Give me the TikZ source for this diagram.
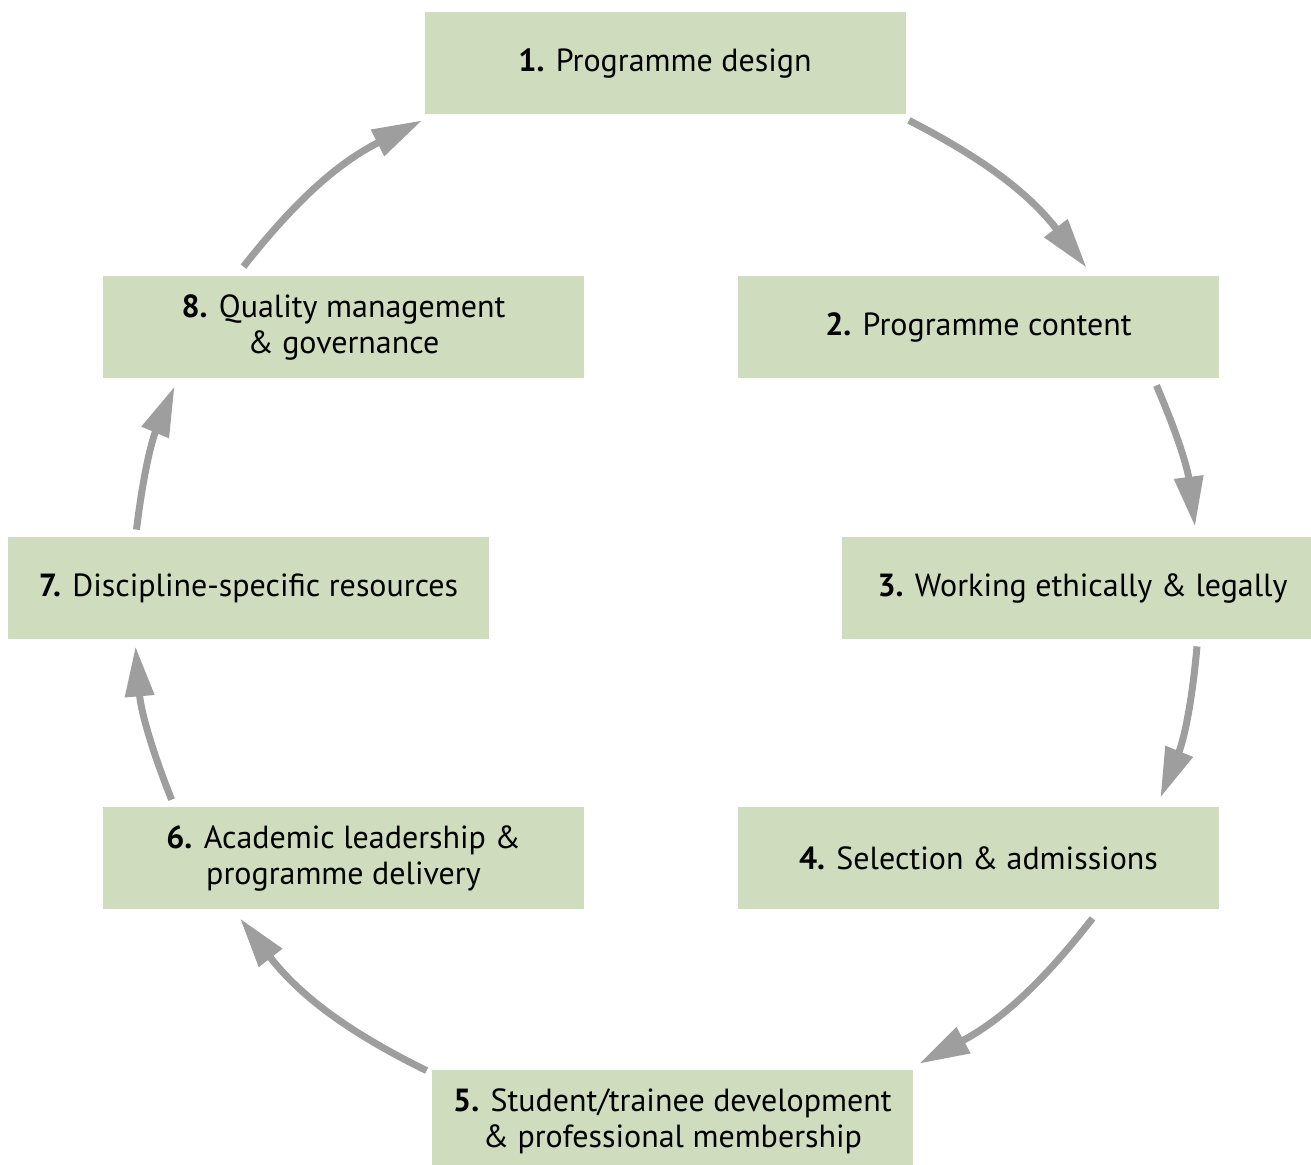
\documentclass[tikz,border=0pt]{standalone}
\usepackage{fontspec}
\setmainfont{PT Sans}
\usetikzlibrary{arrows.meta}
\definecolor{stagegreen}{RGB}{207,220,189}
\definecolor{arrowgray}{RGB}{158,158,158}
\tikzset{
  stage/.style={fill=stagegreen, minimum width=240.5pt, minimum height=51pt, inner sep=0pt, align=center, font=\fontsize{16}{18}\selectfont},
  flowarrow/.style={draw=arrowgray, line width=3.5pt, -{Triangle[length=25pt, width=14pt]}}
}
\begin{document}
\begin{tikzpicture}[x=0.5pt, y=-0.5pt]
\useasboundingbox (0,0) rectangle (1311,1164);
\node[stage] (s1) at (665,63) {\textbf{1.} Programme design};
\node[stage] (s2) at (978.5,327) {\textbf{2.} Programme content};
\node[stage] (s3) at (1082.5,588) {\textbf{3.} Working ethically \& legally};
\node[stage] (s4) at (978.5,858) {\textbf{4.} Selection \& admissions};
\node[stage] (s5) at (672.5,1121) {\textbf{5.} Student/trainee development\\\& professional membership};
\node[stage] (s6) at (343.5,858) {\textbf{6.} Academic leadership \&\\programme delivery};
\node[stage] (s7) at (248.5,588) {\textbf{7.} Discipline-specific resources};
\node[stage] (s8) at (343.5,327) {\textbf{8.} Quality management\\\& governance};
\draw[flowarrow] ([shift={(3,6)}]s1.south east) to[bend left=12.5] ([shift={(108,-8)}]s2.north);
\draw[flowarrow] ([shift={(-63,7)}]s2.south east) to[bend left=8] ([shift={(112.5,-10)}]s3.north);
\draw[flowarrow] ([shift={(114.5,7)}]s3.south) to[bend left=8.5] ([shift={(-59,-9)}]s4.north east);
\draw[flowarrow] ([shift={(114,9)}]s4.south) to[bend left=12] ([shift={(6,-6)}]s5.north east);
\draw[flowarrow] ([shift={(-5,1)}]s5.north west) to[bend left=13] ([shift={(-103.5,9)}]s6.south);
\draw[flowarrow] ([shift={(69,-7)}]s6.north west) to[bend left=8.5] ([shift={(-113,7)}]s7.south);
\draw[flowarrow] ([shift={(-112,-7)}]s7.north) to[bend left=8] ([shift={(72,8)}]s8.south west);
\draw[flowarrow] ([shift={(-100,-9)}]s8.north) to[bend left=12.5] ([shift={(-2,6)}]s1.south west);
\end{tikzpicture}
\end{document}
